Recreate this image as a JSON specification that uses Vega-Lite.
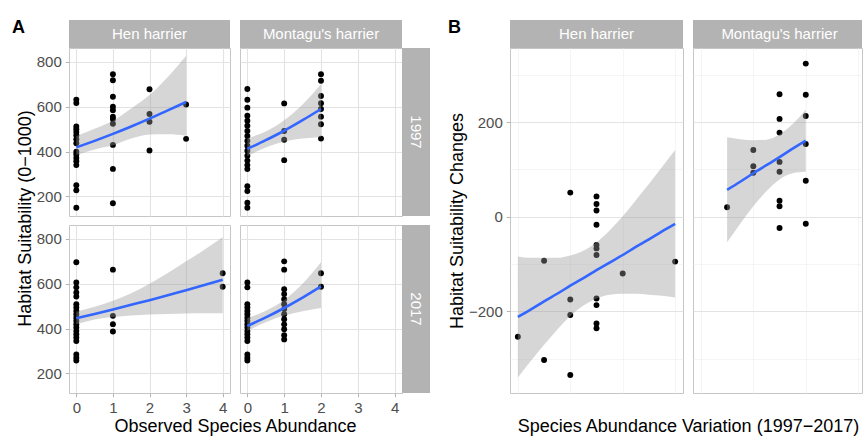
{
  "$schema": "https://vega.github.io/schema/vega-lite/v6.json",
  "padding": {"left": 12, "top": 14, "right": 1, "bottom": 0},
  "background": "white",
  "datasets": {
    "pts": [
      {"panel": "AH97", "x": 0, "y": 632}, {"panel": "AH97", "x": 0, "y": 617}, {"panel": "AH97", "x": 0, "y": 512}, {"panel": "AH97", "x": 0, "y": 500},
      {"panel": "AH97", "x": 0, "y": 487}, {"panel": "AH97", "x": 0, "y": 473}, {"panel": "AH97", "x": 0, "y": 455}, {"panel": "AH97", "x": 0, "y": 437},
      {"panel": "AH97", "x": 0, "y": 400}, {"panel": "AH97", "x": 0, "y": 387}, {"panel": "AH97", "x": 0, "y": 372}, {"panel": "AH97", "x": 0, "y": 357},
      {"panel": "AH97", "x": 0, "y": 340}, {"panel": "AH97", "x": 0, "y": 250}, {"panel": "AH97", "x": 0, "y": 228}, {"panel": "AH97", "x": 0, "y": 150},
      {"panel": "AH97", "x": 1, "y": 745}, {"panel": "AH97", "x": 1, "y": 718}, {"panel": "AH97", "x": 1, "y": 645}, {"panel": "AH97", "x": 1, "y": 600},
      {"panel": "AH97", "x": 1, "y": 585}, {"panel": "AH97", "x": 1, "y": 556}, {"panel": "AH97", "x": 1, "y": 545}, {"panel": "AH97", "x": 1, "y": 524},
      {"panel": "AH97", "x": 1, "y": 430}, {"panel": "AH97", "x": 1, "y": 323}, {"panel": "AH97", "x": 1, "y": 170},
      {"panel": "AH97", "x": 2, "y": 678}, {"panel": "AH97", "x": 2, "y": 568}, {"panel": "AH97", "x": 2, "y": 533}, {"panel": "AH97", "x": 2, "y": 405},
      {"panel": "AH97", "x": 3, "y": 610}, {"panel": "AH97", "x": 3, "y": 457},
      {"panel": "AM97", "x": 0, "y": 679}, {"panel": "AM97", "x": 0, "y": 631}, {"panel": "AM97", "x": 0, "y": 596}, {"panel": "AM97", "x": 0, "y": 560},
      {"panel": "AM97", "x": 0, "y": 538}, {"panel": "AM97", "x": 0, "y": 515}, {"panel": "AM97", "x": 0, "y": 492}, {"panel": "AM97", "x": 0, "y": 470},
      {"panel": "AM97", "x": 0, "y": 448}, {"panel": "AM97", "x": 0, "y": 426}, {"panel": "AM97", "x": 0, "y": 404}, {"panel": "AM97", "x": 0, "y": 382},
      {"panel": "AM97", "x": 0, "y": 360}, {"panel": "AM97", "x": 0, "y": 340}, {"panel": "AM97", "x": 0, "y": 322}, {"panel": "AM97", "x": 0, "y": 246},
      {"panel": "AM97", "x": 0, "y": 224}, {"panel": "AM97", "x": 0, "y": 172}, {"panel": "AM97", "x": 0, "y": 150},
      {"panel": "AM97", "x": 1, "y": 615}, {"panel": "AM97", "x": 1, "y": 492}, {"panel": "AM97", "x": 1, "y": 453}, {"panel": "AM97", "x": 1, "y": 362},
      {"panel": "AM97", "x": 2, "y": 745}, {"panel": "AM97", "x": 2, "y": 716}, {"panel": "AM97", "x": 2, "y": 648}, {"panel": "AM97", "x": 2, "y": 616},
      {"panel": "AM97", "x": 2, "y": 590}, {"panel": "AM97", "x": 2, "y": 556}, {"panel": "AM97", "x": 2, "y": 522}, {"panel": "AM97", "x": 2, "y": 458},
      {"panel": "AH17", "x": 0, "y": 696}, {"panel": "AH17", "x": 0, "y": 606}, {"panel": "AH17", "x": 0, "y": 584}, {"panel": "AH17", "x": 0, "y": 561},
      {"panel": "AH17", "x": 0, "y": 543}, {"panel": "AH17", "x": 0, "y": 509}, {"panel": "AH17", "x": 0, "y": 494}, {"panel": "AH17", "x": 0, "y": 479},
      {"panel": "AH17", "x": 0, "y": 464}, {"panel": "AH17", "x": 0, "y": 449}, {"panel": "AH17", "x": 0, "y": 434}, {"panel": "AH17", "x": 0, "y": 419},
      {"panel": "AH17", "x": 0, "y": 405}, {"panel": "AH17", "x": 0, "y": 389}, {"panel": "AH17", "x": 0, "y": 375}, {"panel": "AH17", "x": 0, "y": 360},
      {"panel": "AH17", "x": 0, "y": 345}, {"panel": "AH17", "x": 0, "y": 285}, {"panel": "AH17", "x": 0, "y": 270}, {"panel": "AH17", "x": 0, "y": 258},
      {"panel": "AH17", "x": 1, "y": 663}, {"panel": "AH17", "x": 1, "y": 457}, {"panel": "AH17", "x": 1, "y": 420}, {"panel": "AH17", "x": 1, "y": 387},
      {"panel": "AH17", "x": 4, "y": 647}, {"panel": "AH17", "x": 4, "y": 587},
      {"panel": "AM17", "x": 0, "y": 606}, {"panel": "AM17", "x": 0, "y": 584}, {"panel": "AM17", "x": 0, "y": 509}, {"panel": "AM17", "x": 0, "y": 494},
      {"panel": "AM17", "x": 0, "y": 479}, {"panel": "AM17", "x": 0, "y": 464}, {"panel": "AM17", "x": 0, "y": 449}, {"panel": "AM17", "x": 0, "y": 434},
      {"panel": "AM17", "x": 0, "y": 419}, {"panel": "AM17", "x": 0, "y": 405}, {"panel": "AM17", "x": 0, "y": 389}, {"panel": "AM17", "x": 0, "y": 375},
      {"panel": "AM17", "x": 0, "y": 360}, {"panel": "AM17", "x": 0, "y": 345}, {"panel": "AM17", "x": 0, "y": 285}, {"panel": "AM17", "x": 0, "y": 270},
      {"panel": "AM17", "x": 0, "y": 258},
      {"panel": "AM17", "x": 1, "y": 700}, {"panel": "AM17", "x": 1, "y": 663}, {"panel": "AM17", "x": 1, "y": 576}, {"panel": "AM17", "x": 1, "y": 554},
      {"panel": "AM17", "x": 1, "y": 531}, {"panel": "AM17", "x": 1, "y": 509}, {"panel": "AM17", "x": 1, "y": 487}, {"panel": "AM17", "x": 1, "y": 464},
      {"panel": "AM17", "x": 1, "y": 442}, {"panel": "AM17", "x": 1, "y": 419}, {"panel": "AM17", "x": 1, "y": 397}, {"panel": "AM17", "x": 1, "y": 371},
      {"panel": "AM17", "x": 1, "y": 352},
      {"panel": "AM17", "x": 2, "y": 647}, {"panel": "AM17", "x": 2, "y": 587},
      {"panel": "BH", "x": -1, "y": 51}, {"panel": "BH", "x": 0, "y": 43}, {"panel": "BH", "x": 0, "y": 27}, {"panel": "BH", "x": 0, "y": 13},
      {"panel": "BH", "x": 0, "y": -17}, {"panel": "BH", "x": 0, "y": -60}, {"panel": "BH", "x": 0, "y": -67}, {"panel": "BH", "x": 0, "y": -81},
      {"panel": "BH", "x": -2, "y": -93}, {"panel": "BH", "x": 1, "y": -120}, {"panel": "BH", "x": 3, "y": -95}, {"panel": "BH", "x": -1, "y": -175},
      {"panel": "BH", "x": 0, "y": -173}, {"panel": "BH", "x": 0, "y": -187}, {"panel": "BH", "x": -1, "y": -208}, {"panel": "BH", "x": 0, "y": -226},
      {"panel": "BH", "x": 0, "y": -236}, {"panel": "BH", "x": -3, "y": -254}, {"panel": "BH", "x": -2, "y": -303}, {"panel": "BH", "x": -1, "y": -335},
      {"panel": "BM", "x": -2, "y": 20}, {"panel": "BM", "x": -1, "y": 141}, {"panel": "BM", "x": -1, "y": 107}, {"panel": "BM", "x": -1, "y": 93},
      {"panel": "BM", "x": 0, "y": 259}, {"panel": "BM", "x": 0, "y": 207}, {"panel": "BM", "x": 0, "y": 178}, {"panel": "BM", "x": 0, "y": 116},
      {"panel": "BM", "x": 0, "y": 95}, {"panel": "BM", "x": 0, "y": 34}, {"panel": "BM", "x": 0, "y": 22}, {"panel": "BM", "x": 0, "y": -24},
      {"panel": "BM", "x": 1, "y": 324}, {"panel": "BM", "x": 1, "y": 258}, {"panel": "BM", "x": 1, "y": 213}, {"panel": "BM", "x": 1, "y": 154},
      {"panel": "BM", "x": 1, "y": 76}, {"panel": "BM", "x": 1, "y": -15}
    ],
    "fit": [
      {"panel": "AH97", "x": 0, "fit": 419, "lo": 385, "hi": 470}, {"panel": "AH97", "x": 0.5, "fit": 448, "lo": 410, "hi": 502},
      {"panel": "AH97", "x": 1, "fit": 479, "lo": 428, "hi": 538}, {"panel": "AH97", "x": 1.5, "fit": 512, "lo": 458, "hi": 592},
      {"panel": "AH97", "x": 2, "fit": 547, "lo": 476, "hi": 652}, {"panel": "AH97", "x": 2.5, "fit": 584, "lo": 477, "hi": 733},
      {"panel": "AH97", "x": 3, "fit": 621, "lo": 471, "hi": 828},
      {"panel": "AM97", "x": 0, "fit": 412, "lo": 380, "hi": 460}, {"panel": "AM97", "x": 0.5, "fit": 451, "lo": 418, "hi": 490},
      {"panel": "AM97", "x": 1, "fit": 493, "lo": 445, "hi": 540}, {"panel": "AM97", "x": 1.5, "fit": 540, "lo": 458, "hi": 610},
      {"panel": "AM97", "x": 2, "fit": 590, "lo": 465, "hi": 700},
      {"panel": "AH17", "x": 0, "fit": 446, "lo": 420, "hi": 475}, {"panel": "AH17", "x": 0.5, "fit": 465, "lo": 441, "hi": 497},
      {"panel": "AH17", "x": 1, "fit": 485, "lo": 452, "hi": 524}, {"panel": "AH17", "x": 1.5, "fit": 506, "lo": 459, "hi": 558},
      {"panel": "AH17", "x": 2, "fit": 527, "lo": 463, "hi": 600}, {"panel": "AH17", "x": 2.5, "fit": 549, "lo": 465, "hi": 648},
      {"panel": "AH17", "x": 3, "fit": 571, "lo": 467, "hi": 700}, {"panel": "AH17", "x": 3.5, "fit": 594, "lo": 468, "hi": 752},
      {"panel": "AH17", "x": 4, "fit": 618, "lo": 468, "hi": 807},
      {"panel": "AM17", "x": 0, "fit": 412, "lo": 390, "hi": 447}, {"panel": "AM17", "x": 0.5, "fit": 450, "lo": 428, "hi": 480},
      {"panel": "AM17", "x": 1, "fit": 492, "lo": 458, "hi": 527}, {"panel": "AM17", "x": 1.5, "fit": 538, "lo": 478, "hi": 600},
      {"panel": "AM17", "x": 2, "fit": 588, "lo": 492, "hi": 696},
      {"panel": "BH", "x": -3, "fit": -212, "lo": -340, "hi": -84}, {"panel": "BH", "x": -2.5, "fit": -196, "lo": -305, "hi": -87},
      {"panel": "BH", "x": -2, "fit": -179, "lo": -271, "hi": -87}, {"panel": "BH", "x": -1.5, "fit": -163, "lo": -239, "hi": -87},
      {"panel": "BH", "x": -1, "fit": -146, "lo": -210, "hi": -82}, {"panel": "BH", "x": -0.5, "fit": -130, "lo": -188, "hi": -72},
      {"panel": "BH", "x": 0, "fit": -113, "lo": -173, "hi": -54}, {"panel": "BH", "x": 0.5, "fit": -97, "lo": -165, "hi": -29},
      {"panel": "BH", "x": 1, "fit": -81, "lo": -163, "hi": 1}, {"panel": "BH", "x": 1.5, "fit": -64, "lo": -163, "hi": 35},
      {"panel": "BH", "x": 2, "fit": -48, "lo": -165, "hi": 69}, {"panel": "BH", "x": 2.5, "fit": -31, "lo": -167, "hi": 105},
      {"panel": "BH", "x": 3, "fit": -15, "lo": -171, "hi": 141},
      {"panel": "BM", "x": -2, "fit": 57, "lo": -54, "hi": 168}, {"panel": "BM", "x": -1.5, "fit": 74, "lo": -15, "hi": 164},
      {"panel": "BM", "x": -1, "fit": 92, "lo": 22, "hi": 162}, {"panel": "BM", "x": -0.5, "fit": 109, "lo": 54, "hi": 163},
      {"panel": "BM", "x": 0, "fit": 126, "lo": 79, "hi": 174}, {"panel": "BM", "x": 0.5, "fit": 144, "lo": 92, "hi": 196},
      {"panel": "BM", "x": 1, "fit": 161, "lo": 95, "hi": 227}
    ]
  },
  "hconcat": [
    {
      "concat": [
        {
          "width": 161, "height": 28,
          "view": {"fill": "#b3b3b3", "stroke": null},
          "title": {"text": "A", "anchor": "start", "frame": "group", "dx": -57, "offset": 0, "dy": 31, "baseline": "alphabetic", "fontSize": 18, "fontWeight": "bold", "color": "#000000", "font": "Liberation Sans"},
          "data": {"values": [{"label": "Hen harrier"}]},
          "mark": {"type": "text", "color": "white", "fontSize": 15, "baseline": "middle", "align": "center", "font": "Liberation Sans"},
          "encoding": {"text": {"field": "label"}}
        },
        {"width": 10, "height": 1, "view": {"stroke": null}, "data": {"values": [{}]}, "mark": {"type": "text", "text": ""}},
        {
          "width": 162, "height": 28,
          "view": {"fill": "#b3b3b3", "stroke": null},
          "data": {"values": [{"label": "Montagu's harrier"}]},
          "mark": {"type": "text", "color": "white", "fontSize": 15, "baseline": "middle", "align": "center", "font": "Liberation Sans"},
          "encoding": {"text": {"field": "label"}}
        },
        {"width": 1, "height": 1, "view": {"stroke": null}, "data": {"values": [{}]}, "mark": {"type": "text", "text": ""}},

        {
          "width": 161, "height": 168,
          "layer": [
            {"data": {"name": "pts"}, "transform": [{"filter": "datum.panel === 'AH97'"}],
             "mark": {"type": "circle", "size": 35, "color": "black", "opacity": 1},
             "encoding": {
               "x": {"field": "x", "type": "quantitative", "scale": {"domain": [-0.2, 4.2], "nice": false, "zero": false},
                     "axis": {"values": [0, 0.5, 1, 1.5, 2, 2.5, 3, 3.5, 4], "labels": false, "ticks": false, "title": null,
                              "gridColor": {"condition": {"test": "datum.value % 1 !== 0", "value": "#f1f1f1"}, "value": "#e3e3e3"},
                              "gridWidth": {"condition": {"test": "datum.value % 1 !== 0", "value": 0.7}, "value": 1.1}}},
               "y": {"field": "y", "type": "quantitative", "scale": {"domain": [113, 862], "nice": false, "zero": false},
                     "axis": {"values": [200, 300, 400, 500, 600, 700, 800], "title": "Habitat Suitability (0−1000)", "titleY": 170,
                              "labelExpr": "datum.value % 200 === 0 ? datum.label : ''",
                              "tickOpacity": {"condition": {"test": "datum.value % 200 !== 0", "value": 0}, "value": 1},
                              "gridColor": {"condition": {"test": "datum.value % 200 !== 0", "value": "#f1f1f1"}, "value": "#e3e3e3"},
                              "gridWidth": {"condition": {"test": "datum.value % 200 !== 0", "value": 0.7}, "value": 1.1}}}
             }},
            {"data": {"name": "fit"}, "transform": [{"filter": "datum.panel === 'AH97'"}],
             "mark": {"type": "area", "color": "#999999", "opacity": 0.4, "interpolate": "monotone"},
             "encoding": {"x": {"field": "x", "type": "quantitative"}, "y": {"field": "lo", "type": "quantitative"}, "y2": {"field": "hi"}}},
            {"data": {"name": "fit"}, "transform": [{"filter": "datum.panel === 'AH97'"}],
             "mark": {"type": "line", "color": "#3366FF", "strokeWidth": 2.6, "interpolate": "monotone"},
             "encoding": {"x": {"field": "x", "type": "quantitative"}, "y": {"field": "fit", "type": "quantitative"}}}
          ]
        },
        {"width": 10, "height": 1, "view": {"stroke": null}, "data": {"values": [{}]}, "mark": {"type": "text", "text": ""}},
        {
          "width": 162, "height": 168,
          "layer": [
            {"data": {"name": "pts"}, "transform": [{"filter": "datum.panel === 'AM97'"}],
             "mark": {"type": "circle", "size": 35, "color": "black", "opacity": 1},
             "encoding": {
               "x": {"field": "x", "type": "quantitative", "scale": {"domain": [-0.2, 4.2], "nice": false, "zero": false},
                     "axis": {"values": [0, 0.5, 1, 1.5, 2, 2.5, 3, 3.5, 4], "labels": false, "ticks": false, "title": null,
                              "gridColor": {"condition": {"test": "datum.value % 1 !== 0", "value": "#f1f1f1"}, "value": "#e3e3e3"},
                              "gridWidth": {"condition": {"test": "datum.value % 1 !== 0", "value": 0.7}, "value": 1.1}}},
               "y": {"field": "y", "type": "quantitative", "scale": {"domain": [113, 862], "nice": false, "zero": false},
                     "axis": {"values": [200, 300, 400, 500, 600, 700, 800], "labels": false, "ticks": false, "title": null,
                              "gridColor": {"condition": {"test": "datum.value % 200 !== 0", "value": "#f1f1f1"}, "value": "#e3e3e3"},
                              "gridWidth": {"condition": {"test": "datum.value % 200 !== 0", "value": 0.7}, "value": 1.1}}}
             }},
            {"data": {"name": "fit"}, "transform": [{"filter": "datum.panel === 'AM97'"}],
             "mark": {"type": "area", "color": "#999999", "opacity": 0.4, "interpolate": "monotone"},
             "encoding": {"x": {"field": "x", "type": "quantitative"}, "y": {"field": "lo", "type": "quantitative"}, "y2": {"field": "hi"}}},
            {"data": {"name": "fit"}, "transform": [{"filter": "datum.panel === 'AM97'"}],
             "mark": {"type": "line", "color": "#3366FF", "strokeWidth": 2.6, "interpolate": "monotone"},
             "encoding": {"x": {"field": "x", "type": "quantitative"}, "y": {"field": "fit", "type": "quantitative"}}}
          ]
        },
        {
          "width": 28, "height": 168,
          "view": {"fill": "#b3b3b3", "stroke": null},
          "data": {"values": [{"label": "1997"}]},
          "mark": {"type": "text", "color": "white", "fontSize": 15, "baseline": "middle", "align": "center", "angle": 90, "font": "Liberation Sans"},
          "encoding": {"text": {"field": "label"}}
        },

        {"width": 1, "height": 9, "view": {"stroke": null}, "data": {"values": [{}]}, "mark": {"type": "text", "text": ""}},
        {"width": 10, "height": 9, "view": {"stroke": null}, "data": {"values": [{}]}, "mark": {"type": "text", "text": ""}},
        {"width": 1, "height": 9, "view": {"stroke": null}, "data": {"values": [{}]}, "mark": {"type": "text", "text": ""}},
        {"width": 1, "height": 9, "view": {"stroke": null}, "data": {"values": [{}]}, "mark": {"type": "text", "text": ""}},

        {
          "width": 161, "height": 168,
          "layer": [
            {"data": {"name": "pts"}, "transform": [{"filter": "datum.panel === 'AH17'"}],
             "mark": {"type": "circle", "size": 35, "color": "black", "opacity": 1},
             "encoding": {
               "x": {"field": "x", "type": "quantitative", "scale": {"domain": [-0.2, 4.2], "nice": false, "zero": false},
                     "axis": {"values": [0, 0.5, 1, 1.5, 2, 2.5, 3, 3.5, 4], "title": "Observed Species Abundance", "titleX": 166,
                              "labelExpr": "datum.value % 1 === 0 ? datum.label : ''",
                              "tickOpacity": {"condition": {"test": "datum.value % 1 !== 0", "value": 0}, "value": 1},
                              "gridColor": {"condition": {"test": "datum.value % 1 !== 0", "value": "#f1f1f1"}, "value": "#e3e3e3"},
                              "gridWidth": {"condition": {"test": "datum.value % 1 !== 0", "value": 0.7}, "value": 1.1}}},
               "y": {"field": "y", "type": "quantitative", "scale": {"domain": [113, 862], "nice": false, "zero": false},
                     "axis": {"values": [200, 300, 400, 500, 600, 700, 800], "title": null,
                              "labelExpr": "datum.value % 200 === 0 ? datum.label : ''",
                              "tickOpacity": {"condition": {"test": "datum.value % 200 !== 0", "value": 0}, "value": 1},
                              "gridColor": {"condition": {"test": "datum.value % 200 !== 0", "value": "#f1f1f1"}, "value": "#e3e3e3"},
                              "gridWidth": {"condition": {"test": "datum.value % 200 !== 0", "value": 0.7}, "value": 1.1}}}
             }},
            {"data": {"name": "fit"}, "transform": [{"filter": "datum.panel === 'AH17'"}],
             "mark": {"type": "area", "color": "#999999", "opacity": 0.4, "interpolate": "monotone"},
             "encoding": {"x": {"field": "x", "type": "quantitative"}, "y": {"field": "lo", "type": "quantitative"}, "y2": {"field": "hi"}}},
            {"data": {"name": "fit"}, "transform": [{"filter": "datum.panel === 'AH17'"}],
             "mark": {"type": "line", "color": "#3366FF", "strokeWidth": 2.6, "interpolate": "monotone"},
             "encoding": {"x": {"field": "x", "type": "quantitative"}, "y": {"field": "fit", "type": "quantitative"}}}
          ]
        },
        {"width": 10, "height": 1, "view": {"stroke": null}, "data": {"values": [{}]}, "mark": {"type": "text", "text": ""}},
        {
          "width": 162, "height": 168,
          "layer": [
            {"data": {"name": "pts"}, "transform": [{"filter": "datum.panel === 'AM17'"}],
             "mark": {"type": "circle", "size": 35, "color": "black", "opacity": 1},
             "encoding": {
               "x": {"field": "x", "type": "quantitative", "scale": {"domain": [-0.2, 4.2], "nice": false, "zero": false},
                     "axis": {"values": [0, 0.5, 1, 1.5, 2, 2.5, 3, 3.5, 4], "title": null,
                              "labelExpr": "datum.value % 1 === 0 ? datum.label : ''",
                              "tickOpacity": {"condition": {"test": "datum.value % 1 !== 0", "value": 0}, "value": 1},
                              "gridColor": {"condition": {"test": "datum.value % 1 !== 0", "value": "#f1f1f1"}, "value": "#e3e3e3"},
                              "gridWidth": {"condition": {"test": "datum.value % 1 !== 0", "value": 0.7}, "value": 1.1}}},
               "y": {"field": "y", "type": "quantitative", "scale": {"domain": [113, 862], "nice": false, "zero": false},
                     "axis": {"values": [200, 300, 400, 500, 600, 700, 800], "labels": false, "ticks": false, "title": null,
                              "gridColor": {"condition": {"test": "datum.value % 200 !== 0", "value": "#f1f1f1"}, "value": "#e3e3e3"},
                              "gridWidth": {"condition": {"test": "datum.value % 200 !== 0", "value": 0.7}, "value": 1.1}}}
             }},
            {"data": {"name": "fit"}, "transform": [{"filter": "datum.panel === 'AM17'"}],
             "mark": {"type": "area", "color": "#999999", "opacity": 0.4, "interpolate": "monotone"},
             "encoding": {"x": {"field": "x", "type": "quantitative"}, "y": {"field": "lo", "type": "quantitative"}, "y2": {"field": "hi"}}},
            {"data": {"name": "fit"}, "transform": [{"filter": "datum.panel === 'AM17'"}],
             "mark": {"type": "line", "color": "#3366FF", "strokeWidth": 2.6, "interpolate": "monotone"},
             "encoding": {"x": {"field": "x", "type": "quantitative"}, "y": {"field": "fit", "type": "quantitative"}}}
          ]
        },
        {
          "width": 28, "height": 168,
          "view": {"fill": "#b3b3b3", "stroke": null},
          "data": {"values": [{"label": "2017"}]},
          "mark": {"type": "text", "color": "white", "fontSize": 15, "baseline": "middle", "align": "center", "angle": 90, "font": "Liberation Sans"},
          "encoding": {"text": {"field": "label"}}
        }
      ],
      "columns": 4, "spacing": 0, "bounds": "flush", "align": "each"
    },
    {
      "concat": [
        {
          "width": 173, "height": 28,
          "view": {"fill": "#b3b3b3", "stroke": null},
          "title": {"text": "B", "anchor": "start", "frame": "group", "dx": -62, "offset": 0, "dy": 31, "baseline": "alphabetic", "fontSize": 18, "fontWeight": "bold", "color": "#000000", "font": "Liberation Sans"},
          "data": {"values": [{"label": "Hen harrier"}]},
          "mark": {"type": "text", "color": "white", "fontSize": 15, "baseline": "middle", "align": "center", "font": "Liberation Sans"},
          "encoding": {"text": {"field": "label"}}
        },
        {"width": 10, "height": 1, "view": {"stroke": null}, "data": {"values": [{}]}, "mark": {"type": "text", "text": ""}},
        {
          "width": 169, "height": 28,
          "view": {"fill": "#b3b3b3", "stroke": null},
          "data": {"values": [{"label": "Montagu's harrier"}]},
          "mark": {"type": "text", "color": "white", "fontSize": 15, "baseline": "middle", "align": "center", "dx": 2, "font": "Liberation Sans"},
          "encoding": {"text": {"field": "label"}}
        },
        {
          "width": 173, "height": 345,
          "layer": [
            {"data": {"name": "pts"}, "transform": [{"filter": "datum.panel === 'BH'"}],
             "mark": {"type": "circle", "size": 35, "color": "black", "opacity": 1},
             "encoding": {
               "x": {"field": "x", "type": "quantitative", "scale": {"domain": [-3.3, 3.3], "nice": false, "zero": false},
                     "axis": {"values": [-3, -2, -1, 0, 1, 2, 3], "title": "Species Abundance Variation (1997−2017)", "titleX": 178,
                              "labelExpr": "datum.value % 2 === 0 ? datum.label : ''",
                              "tickOpacity": {"condition": {"test": "datum.value % 2 !== 0", "value": 0}, "value": 1},
                              "gridColor": {"condition": {"test": "datum.value % 2 !== 0", "value": "#f1f1f1"}, "value": "#e3e3e3"},
                              "gridWidth": {"condition": {"test": "datum.value % 2 !== 0", "value": 0.7}, "value": 1.1}}},
               "y": {"field": "y", "type": "quantitative", "scale": {"domain": [-373, 357], "nice": false, "zero": false},
                     "axis": {"values": [-300, -200, -100, 0, 100, 200, 300], "title": "Habitat Suitability Changes",
                              "labelExpr": "datum.value % 200 === 0 ? datum.label : ''",
                              "tickOpacity": {"condition": {"test": "datum.value % 200 !== 0", "value": 0}, "value": 1},
                              "gridColor": {"condition": {"test": "datum.value % 200 !== 0", "value": "#f1f1f1"}, "value": "#e3e3e3"},
                              "gridWidth": {"condition": {"test": "datum.value % 200 !== 0", "value": 0.7}, "value": 1.1}}}
             }},
            {"data": {"name": "fit"}, "transform": [{"filter": "datum.panel === 'BH'"}],
             "mark": {"type": "area", "color": "#999999", "opacity": 0.4, "interpolate": "monotone"},
             "encoding": {"x": {"field": "x", "type": "quantitative"}, "y": {"field": "lo", "type": "quantitative"}, "y2": {"field": "hi"}}},
            {"data": {"name": "fit"}, "transform": [{"filter": "datum.panel === 'BH'"}],
             "mark": {"type": "line", "color": "#3366FF", "strokeWidth": 2.6, "interpolate": "monotone"},
             "encoding": {"x": {"field": "x", "type": "quantitative"}, "y": {"field": "fit", "type": "quantitative"}}}
          ]
        },
        {"width": 10, "height": 1, "view": {"stroke": null}, "data": {"values": [{}]}, "mark": {"type": "text", "text": ""}},
        {
          "width": 169, "height": 345,
          "layer": [
            {"data": {"name": "pts"}, "transform": [{"filter": "datum.panel === 'BM'"}],
             "mark": {"type": "circle", "size": 35, "color": "black", "opacity": 1},
             "encoding": {
               "x": {"field": "x", "type": "quantitative", "scale": {"domain": [-3.3, 3.144], "nice": false, "zero": false},
                     "axis": {"values": [-3, -2, -1, 0, 1, 2, 3], "title": null,
                              "labelExpr": "datum.value % 2 === 0 ? datum.label : ''",
                              "tickOpacity": {"condition": {"test": "datum.value % 2 !== 0", "value": 0}, "value": 1},
                              "gridColor": {"condition": {"test": "datum.value % 2 !== 0", "value": "#f1f1f1"}, "value": "#e3e3e3"},
                              "gridWidth": {"condition": {"test": "datum.value % 2 !== 0", "value": 0.7}, "value": 1.1}}},
               "y": {"field": "y", "type": "quantitative", "scale": {"domain": [-373, 357], "nice": false, "zero": false},
                     "axis": {"values": [-300, -200, -100, 0, 100, 200, 300], "labels": false, "ticks": false, "title": null,
                              "gridColor": {"condition": {"test": "datum.value % 200 !== 0", "value": "#f1f1f1"}, "value": "#e3e3e3"},
                              "gridWidth": {"condition": {"test": "datum.value % 200 !== 0", "value": 0.7}, "value": 1.1}}}
             }},
            {"data": {"name": "fit"}, "transform": [{"filter": "datum.panel === 'BM'"}],
             "mark": {"type": "area", "color": "#999999", "opacity": 0.4, "interpolate": "monotone"},
             "encoding": {"x": {"field": "x", "type": "quantitative"}, "y": {"field": "lo", "type": "quantitative"}, "y2": {"field": "hi"}}},
            {"data": {"name": "fit"}, "transform": [{"filter": "datum.panel === 'BM'"}],
             "mark": {"type": "line", "color": "#3366FF", "strokeWidth": 2.6, "interpolate": "monotone"},
             "encoding": {"x": {"field": "x", "type": "quantitative"}, "y": {"field": "fit", "type": "quantitative"}}}
          ]
        }
      ],
      "columns": 3, "spacing": 0, "bounds": "flush", "align": "each"
    }
  ],
  "spacing": 18,
  "config": {
    "font": "Liberation Sans",
    "view": {"stroke": "#c6c6c6", "strokeWidth": 1},
    "axis": {
      "labelFont": "Liberation Sans", "labelFontSize": 15, "labelColor": "#4d4d4d",
      "titleFont": "Liberation Sans", "titleFontSize": 18, "titleFontWeight": "normal", "titleColor": "#000000",
      "tickColor": "#b3b3b3", "tickSize": 3.7, "tickWidth": 1, "domain": false,
      "labelPadding": 4, "titlePadding": 2, "labelOverlap": false, "labelFlush": false, "grid": true
    }
  }
}
